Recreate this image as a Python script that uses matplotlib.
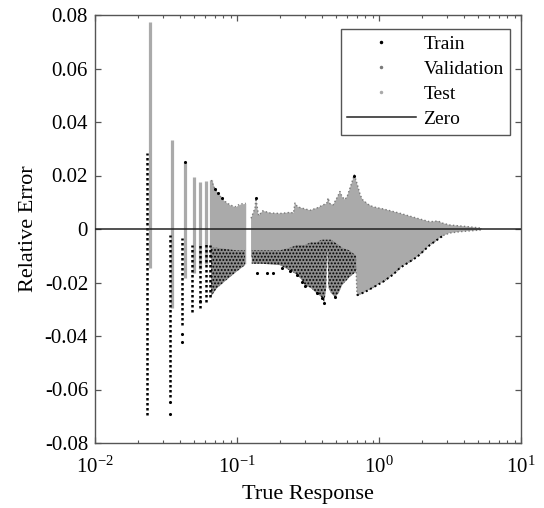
import numpy as np
import matplotlib
matplotlib.use('Agg')
import matplotlib.pyplot as plt
from matplotlib.lines import Line2D
from matplotlib.ticker import FuncFormatter, LogLocator, NullFormatter

# ---------------- data ----------------
# Test set: isolated vertical spikes (x, top, bottom)
spike_x = [0.0244, 0.0349, 0.0428, 0.0496, 0.0552, 0.0608, 0.0656]
spike_top = [0.0775, 0.0333, 0.0252, 0.0196, 0.0177, 0.0179, 0.0183]
spike_bot = [-0.0147, -0.0297, -0.0183, -0.0165, -0.0150, -0.0130, -0.0110]

# Test set: first dense band
band1_x = [0.0660, 0.0700, 0.0740, 0.0780, 0.0823, 0.0893, 0.0968, 0.1050, 0.1152]
band1_hi = [0.0183, 0.0148, 0.0133, 0.0115, 0.0103, 0.0090, 0.0083, 0.0093, 0.0096]
band1_lo = [-0.0110, -0.0115, -0.0120, -0.0120, -0.0125, -0.0130, -0.0130, -0.0130, -0.0130]

# Test set: second dense band, upper and lower envelopes
band2_ux = [0.1256, 0.130, 0.134, 0.136, 0.139, 0.142, 0.152, 0.171, 0.201, 0.236,
            0.250, 0.256, 0.265, 0.278, 0.327, 0.372, 0.403, 0.428, 0.438, 0.450,
            0.475, 0.510, 0.531, 0.550, 0.576, 0.600, 0.640, 0.670, 0.700, 0.740,
            0.770, 0.840, 0.907, 1.07, 1.40, 1.86, 2.28, 2.60, 2.80, 3.15, 4.17, 5.30]
band2_uy = [0.0040, 0.0060, 0.0080, 0.0115, 0.0080, 0.0050, 0.0068, 0.0060, 0.0058, 0.0062,
            0.0060, 0.0097, 0.0085, 0.0080, 0.0070, 0.0080, 0.0090, 0.0095, 0.0116, 0.0095,
            0.0090, 0.0120, 0.0140, 0.0120, 0.0110, 0.0125, 0.0170, 0.0202, 0.0170, 0.0125,
            0.0108, 0.0092, 0.0083, 0.0075, 0.0059, 0.0040, 0.0027, 0.0030, 0.0022, 0.0015,
            0.0009, 0.0003]
band2_lx = [0.1256, 0.150, 0.200, 0.250, 0.300, 0.400, 0.420, 0.432, 0.445, 0.500,
            0.600, 0.690, 0.700, 0.800, 0.970, 1.07, 1.26, 1.40, 1.86, 2.28,
            2.82, 3.15, 3.72, 5.14, 5.30]
band2_ly = [-0.0100, -0.0110, -0.0120, -0.0130, -0.0140, -0.0160, -0.0160, -0.0050, -0.0160, -0.0160,
            -0.0150, -0.0150, -0.0248, -0.0235, -0.0210, -0.0197, -0.0170, -0.0146, -0.0104, -0.0060,
            -0.0025, -0.0015, -0.0010, -0.0004, 0.0000]

# Train set: dotted vertical columns (x, top, bottom)
col_x = [0.0232, 0.0337, 0.0410, 0.0482, 0.0549, 0.0605, 0.0645]
col_top = [0.0283, -0.0022, -0.0034, -0.0060, -0.0060, -0.0050, -0.0060]
col_bot = [-0.0695, -0.0627, -0.0360, -0.0310, -0.0297, -0.0274, -0.0256]

# Train set: dense clusters below zero
tr1_x = [0.0656, 0.0720, 0.0846, 0.0990, 0.1140]
tr1_hi = [-0.0070, -0.0070, -0.0075, -0.0080, -0.0080]
tr1_lo = [-0.0253, -0.0222, -0.0190, -0.0160, -0.0135]

tr2_x = [0.127, 0.150, 0.200, 0.236, 0.263, 0.285, 0.300, 0.330, 0.363, 0.394,
         0.412, 0.425, 0.432, 0.440, 0.460, 0.490, 0.520, 0.550, 0.620, 0.690]
tr2_hi = [-0.0080, -0.0080, -0.0080, -0.0070, -0.0060, -0.0060, -0.0060, -0.0050, -0.0050, -0.0040,
          -0.0040, -0.0040, -0.0040, -0.0040, -0.0040, -0.0050, -0.0060, -0.0070, -0.0080, -0.0100]
tr2_lo = [-0.0130, -0.0130, -0.0135, -0.0155, -0.0170, -0.0190, -0.0210, -0.0220, -0.0240, -0.0255,
          -0.0275, -0.0220, -0.0050, -0.0220, -0.0240, -0.0255, -0.0240, -0.0210, -0.0180, -0.0160]

# Train set: isolated points
pt_x = [0.0337, 0.0337, 0.0410, 0.0410, 0.138, 0.163, 0.179, 0.206, 0.236, 0.263,
        0.285, 0.300, 0.363, 0.394, 0.412, 0.490, 0.0549, 0.0428, 0.0700, 0.0740,
        0.0780, 0.136, 0.670]
pt_y = [-0.0646, -0.0690, -0.0391, -0.0423, -0.0165, -0.0165, -0.0165, -0.0146, -0.0157, -0.0172,
        -0.0197, -0.0213, -0.0240, -0.0259, -0.0278, -0.0253, -0.0270, 0.0252, 0.0148, 0.0133,
        0.0115, 0.0115, 0.0200]

yticks = [-0.08, -0.06, -0.04, -0.02, 0.0, 0.02, 0.04, 0.06, 0.08]

# ---------------- styling ----------------
plt.rcParams['font.family'] = ['Liberation Serif', 'DejaVu Serif']
plt.rcParams['mathtext.fontset'] = 'stix'
plt.rcParams['axes.unicode_minus'] = False
plt.rcParams['hatch.linewidth'] = 0.9
plt.rcParams['hatch.color'] = 'black'

TEST = '#aaaaaa'
VAL = '#7a7a7a'
TRAIN = '#000000'
FS_TICK = 15
FS_LAB = 16
FS_LEG = 14

fig = plt.figure(figsize=(5.44, 5.08), dpi=100)
ax = fig.add_axes([95 / 544, 1 - 443 / 508, 426 / 544, 428 / 508])
ax.set_xscale('log')

# Test band and spikes
ax.vlines(spike_x, spike_bot, spike_top, color=TEST, lw=2.3, zorder=2)
ax.fill_between(band1_x, band1_lo, band1_hi, color=TEST, lw=0, zorder=2)
poly_x = np.concatenate([band2_ux, band2_lx[::-1]])
poly_y = np.concatenate([band2_uy, band2_ly[::-1]])
ax.fill(poly_x, poly_y, color=TEST, lw=0, zorder=2)

# Validation: darker points along the envelopes
ax.plot(band1_x, band1_hi, ls=':', color=VAL, lw=1.0, zorder=3)
ax.plot(band2_ux, band2_uy, ls=':', color=VAL, lw=1.0, zorder=3)
ax.plot(band2_lx, band2_ly, ls=':', color=VAL, lw=1.0, zorder=3)

# Train
ax.vlines(col_x, col_bot, col_top, color=TRAIN, lw=1.8, linestyles=(0, (1, 1.0)), zorder=4)
ax.fill_between(tr1_x, tr1_lo, tr1_hi, facecolor='#8c8c8c', edgecolor=TRAIN, hatch='.....', lw=0, zorder=3)
ax.fill_between(tr2_x, tr2_lo, tr2_hi, facecolor='#8c8c8c', edgecolor=TRAIN, hatch='.....', lw=0, zorder=3)
ax.plot(band2_lx[12:21], band2_ly[12:21], ls=(0, (1, 1.5)), color=TRAIN, lw=1.4, zorder=4)
ax.scatter(pt_x, pt_y, s=5, color=TRAIN, lw=0, zorder=5)

# Zero line
ax.axhline(0, color='#222222', lw=1.1, zorder=6)

# axes
ax.set_xlim(1e-2, 1e1)
ax.set_ylim(-0.08, 0.08)
ax.set_yticks(yticks)
ax.yaxis.set_major_formatter(FuncFormatter(lambda v, p: '0' if abs(v) < 1e-9 else '%.2f' % v))
ax.xaxis.set_major_locator(LogLocator(base=10, numticks=10))
ax.xaxis.set_minor_locator(LogLocator(base=10, subs=np.arange(2, 10), numticks=20))
ax.xaxis.set_minor_formatter(NullFormatter())
ax.tick_params(which='both', direction='in', top=True, right=True, labelsize=FS_TICK, color='#555555')
ax.tick_params(which='major', length=4.5, width=0.9)
ax.tick_params(which='minor', length=2.5, width=0.8)
ax.tick_params(axis='x', which='major', pad=10)
ax.tick_params(axis='y', which='major', pad=5)
for s in ax.spines.values():
    s.set_color('#555555')
    s.set_linewidth(1.0)

ax.set_xlabel('True Response', fontsize=FS_LAB, labelpad=5)
ax.set_ylabel('Relative Error', fontsize=FS_LAB, labelpad=5)

handles = [
    Line2D([], [], ls='none', marker='.', ms=3, color=TRAIN),
    Line2D([], [], ls='none', marker='.', ms=3, color=VAL),
    Line2D([], [], ls='none', marker='.', ms=3, color=TEST),
    Line2D([], [], color='#222222', lw=1.1),
]
leg = ax.legend(handles, ['Train', 'Validation', 'Test', 'Zero'], loc='upper right',
                bbox_to_anchor=(0.975, 0.968), borderaxespad=0, fontsize=FS_LEG,
                frameon=True, fancybox=False, framealpha=1, edgecolor='#555555',
                handlelength=3.5, handletextpad=0.4, labelspacing=0.38, borderpad=0.35)
leg.get_frame().set_linewidth(1.0)

fig.savefig('out.png', dpi=100)
